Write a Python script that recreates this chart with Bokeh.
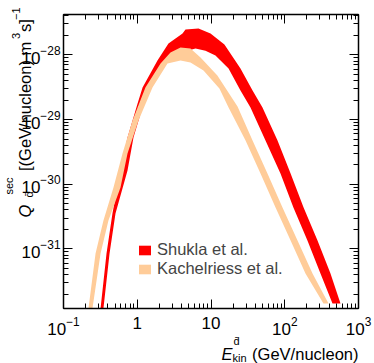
import math
from bokeh.plotting import figure
from bokeh.models import Range1d, LogAxis, LogTicker, Label, Legend, LegendItem
from bokeh.embed import file_html
from bokeh.resources import INLINE

# ---------------- data (GeV/nucleon, [(GeV/nucleon) m^3 s]^-1) ----------------
shukla_upper_E = [0.318, 0.383, 0.461, 0.593, 0.738, 1.01, 1.18, 1.88, 2.65, 4.11, 4.51,
                  6.77, 9.85, 15.2, 25.1, 36.6, 49.9, 79.8, 120, 180, 278, 417, 570]
shukla_upper_Q = [1.20e-32, 8.49e-32, 3.52e-31, 1.63e-30, 5.27e-30, 1.77e-29, 3.12e-29,
                  8.16e-29, 1.50e-28, 2.13e-28, 2.46e-28, 2.55e-28, 2.13e-28, 1.44e-28, 6.14e-29,
                  2.81e-29, 1.53e-29, 4.73e-30, 1.46e-30, 4.37e-31, 1.35e-31, 4.17e-32, 1.43e-32]
shukla_lower_E = [0.348, 0.421, 0.507, 0.738, 0.889, 1.22, 1.77, 2.82, 4.24, 6.17, 8.42,
                  11.5, 17.3, 25.1, 34.3, 54.8, 87.5, 131, 203, 305, 444]
shukla_lower_Q = [1.20e-32, 8.49e-32, 3.52e-31, 1.63e-30, 5.27e-30, 1.77e-29, 4.79e-29,
                  8.77e-29, 1.12e-28, 1.25e-28, 1.16e-28, 9.75e-29, 6.14e-29, 2.81e-29, 1.53e-29,
                  4.73e-30, 1.46e-30, 4.37e-31, 1.35e-31, 4.17e-32, 1.43e-32]

kach_upper_E = [0.218, 0.272, 0.348, 0.476, 0.631, 0.863, 1.29, 2.07, 2.82, 3.86, 5.27,
                7.21, 12.2, 22.9, 36.6, 58.3, 93.2, 149, 238, 392]
kach_upper_Q = [1.20e-32, 8.49e-32, 2.75e-31, 8.89e-31, 2.98e-30, 9.66e-30, 3.12e-29,
                7.34e-29, 1.09e-28, 1.30e-28, 1.25e-28, 9.08e-29, 4.79e-29, 1.59e-29, 4.73e-30,
                1.46e-30, 4.37e-31, 1.35e-31, 4.17e-32, 1.43e-32]
kach_lower_E = [0.247, 0.318, 0.407, 0.593, 0.738, 1.04, 1.61, 2.57, 3.86, 5.27, 7.91,
                13.0, 17.3, 29.4, 46.9, 75.0, 120, 191, 335]
kach_lower_Q = [1.20e-32, 8.49e-32, 2.75e-31, 8.89e-31, 2.98e-30, 9.66e-30, 3.12e-29,
                7.34e-29, 8.16e-29, 7.60e-29, 5.72e-29, 3.01e-29, 1.53e-29, 4.73e-30, 1.46e-30,
                4.37e-31, 1.35e-31, 4.17e-32, 1.43e-32]

series_labels = ["Shukla et al.", "Kachelriess et al."]
series_colors = ["#ff0000", "#ffcc99"]
x_tick_overrides = {1.0: "1", 10.0: "10"}

# axis box (data limits) and its place on the canvas (pixels)
x_min, x_max = 0.1, 1000.0
y_min, y_max = 1.2e-32, 4.2e-28
W, H = 374, 363
box_left, box_right, box_top, box_bottom = 63, 358, 14, 308

FONT = "Liberation Sans"
FS = "16.5px"
FS_SMALL = "11px"


def extend(lo, hi, p_lo, p_hi, q0, q1):
    a, b = math.log10(lo), math.log10(hi)
    k = (b - a) / (p_hi - p_lo)
    return 10 ** (a + k * (q0 - p_lo)), 10 ** (a + k * (q1 - p_lo))


x0, x1 = extend(x_min, x_max, box_left, box_right, 0, W)
y0, y1 = extend(y_min, y_max, H - box_bottom, H - box_top, 0, H)

p = figure(width=W, height=H, x_axis_type="log", y_axis_type="log",
           x_range=Range1d(x0, x1), y_range=Range1d(y0, y1),
           output_backend="svg", toolbar_location=None,
           min_border_left=0, min_border_right=0, min_border_top=0, min_border_bottom=0)
p.grid.visible = False
p.outline_line_color = None
p.background_fill_color = "white"
p.border_fill_color = "white"

r1 = p.patch(shukla_upper_E + shukla_lower_E[::-1], shukla_upper_Q + shukla_lower_Q[::-1],
             fill_color=series_colors[0], line_color=None)
r2 = p.patch(kach_upper_E + kach_lower_E[::-1], kach_upper_Q + kach_lower_Q[::-1],
             fill_color=series_colors[1], line_color=None)

xb, yl = p.xaxis[0], p.yaxis[0]
xb.fixed_location = y_min
xb.bounds = (x_min, x_max)
yl.fixed_location = x_min
yl.bounds = (y_min, y_max)
xt = LogAxis(fixed_location=y_max, bounds=(x_min, x_max))
yr = LogAxis(fixed_location=x_max, bounds=(y_min, y_max))
p.add_layout(xt, "above")
p.add_layout(yr, "right")

for ax in (xb, yl, xt, yr):
    ax.ticker = LogTicker(num_minor_ticks=10)
    ax.axis_line_width = 1.5
    ax.axis_line_color = "black"
    ax.major_tick_in = 9
    ax.major_tick_out = 0
    ax.minor_tick_in = 5
    ax.minor_tick_out = 0
    ax.major_tick_line_width = 1
    ax.minor_tick_line_width = 1
    ax.major_label_text_font = FONT
    ax.major_label_text_font_size = "17px"
    ax.major_label_text_color = "black"
for ax in (xt, yr):
    ax.major_label_text_color = None
xb.major_label_standoff = 8
yl.major_label_standoff = 3
xb.major_label_overrides = x_tick_overrides

legend = Legend(items=[LegendItem(label=series_labels[0], renderers=[r1]),
                       LegendItem(label=series_labels[1], renderers=[r2])],
                location=(137, 85), glyph_width=15, glyph_height=12, label_standoff=5,
                spacing=0, padding=0, margin=0, border_line_alpha=0, background_fill_alpha=0,
                label_text_font=FONT, label_text_font_size=FS, label_height=18)
p.add_layout(legend)


def lab(text, X, Y, size=FS, italic=False, align="left", angle=0):
    # X, Y: canvas pixels from the top-left corner (baseline anchor)
    p.add_layout(Label(text=text, x=X, y=H - Y, x_units="screen", y_units="screen",
                       text_font=FONT, text_font_size=size,
                       text_font_style="italic" if italic else "normal",
                       text_align=align, text_baseline="alphabetic",
                       angle=angle, angle_units="deg", text_color="black"))


# x-axis title
lab("E", 221, 353.5, italic=True)
lab("d\u0304", 233, 340, size=FS_SMALL)
lab("kin", 232, 357.5, size=FS_SMALL)
lab("(GeV/nucleon)", 358, 353.5, align="right")

# y-axis title (rotated, reads bottom to top)
lab("Q", 24.5, 217, italic=True, angle=90)
lab("sec", 8, 194, size=FS_SMALL, angle=90)
lab("d\u0304", 28, 197, size=FS_SMALL, angle=90)
lab("[(GeV/nucleon) m", 24.5, 170.5, angle=90)
lab("3", 15.5, 38.5, size=FS_SMALL, angle=90)
lab("s]", 24.5, 31.5, angle=90)
lab("\u22121", 15.5, 19.5, size=FS_SMALL, angle=90)

open("out.html", "w").write(file_html(p, INLINE))
